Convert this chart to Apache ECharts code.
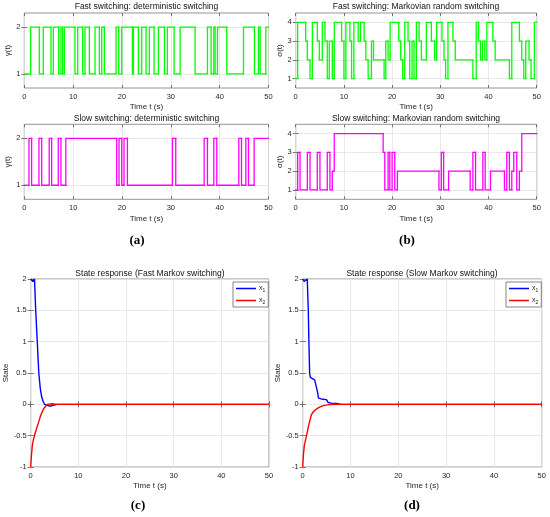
<!DOCTYPE html>
<html>
<head>
<meta charset="utf-8">
<script src="https://cdn.jsdelivr.net/npm/echarts@6/dist/echarts.min.js"></script>
<style>
  html, body { margin: 0; padding: 0; background: #fff; }
  #main { width: 550px; height: 517px; }
</style>
</head>
<body>
<div id="main"></div>
<script>
// switching instants (s) and the mode held from that instant on
var fastDetT = [0, 1.30, 3.07, 3.89, 5.46, 5.94, 7.04, 7.51, 7.86, 8.20, 10.38, 10.93, 11.95, 12.43, 13.32, 14.48,
  15.37, 15.85, 16.39, 18.78, 19.33, 19.95, 22.13, 22.34, 23.36, 24.04, 24.93, 25.61, 26.57, 27.46, 28.69, 29.30,
  30.67, 31.90, 34.97, 37.50, 38.25, 38.80, 39.07, 39.55, 41.46, 44.88, 47.13, 47.95, 48.29, 49.45]
var fastDetMode = [1, 2, 1, 2, 1, 2, 1, 2, 1, 2, 1, 2, 1, 2, 1, 2,
  1, 2, 1, 2, 1, 2, 1, 2, 1, 2, 1, 2, 1, 2, 1, 2,
  1, 2, 1, 2, 1, 2, 1, 2, 1, 2, 1, 2, 1, 2]

var slowDetT = [0, 0.96, 1.5, 3.0, 3.56, 5.1, 5.6, 6.95, 7.5, 8.5, 18.92, 19.40, 19.95, 20.42, 21.11, 30.33,
  31.01, 36.82, 37.50, 38.80, 39.41, 43.92, 44.47, 45.36, 45.90, 47.06]
var slowDetMode = [1, 2, 1, 2, 1, 2, 1, 2, 1, 2, 1, 2, 1, 2, 1, 2,
  1, 2, 1, 2, 1, 2, 1, 2, 1, 2]

var fastMarkT = [0, 0.41, 2.07, 2.41, 2.97, 3.45, 4.48, 4.90, 5.52, 6.07, 6.55, 6.97, 7.59, 8.0, 9.52, 10.0,
  10.41, 11.24, 11.59, 12.07, 12.97, 13.45, 14.2, 14.55, 15.03, 15.72, 16.14, 18.34, 18.69, 19.17, 19.59, 21.38,
  21.79, 22.2, 22.62, 23.31, 23.66, 24.14, 24.55, 25.03, 25.59, 26.07, 27.1, 28.14, 28.83, 29.24, 30.34, 30.76,
  31.1, 31.59, 32.62, 33.1, 36.76, 37.45, 37.93, 38.34, 38.76, 39.24, 39.66, 40.9, 41.38, 44.34, 44.83, 46.41,
  46.9, 47.31, 47.72, 48.41, 48.83, 49.52]
var fastMarkMode = [1, 4, 3, 2, 1, 4, 3, 2, 4, 3, 1, 3, 1, 4, 3, 1,
  4, 3, 1, 4, 3, 4, 3, 2, 1, 3, 2, 1, 3, 2, 4, 3,
  2, 1, 4, 3, 1, 3, 1, 4, 3, 2, 4, 3, 2, 4, 3, 2,
  1, 4, 3, 2, 1, 4, 3, 2, 3, 2, 4, 3, 2, 1, 4, 3,
  2, 1, 3, 2, 1, 4]

var slowMarkT = [0, 0.41, 0.9, 2.41, 2.97, 4.48, 5.03, 6.55, 7.1, 7.59, 8.0, 18.14, 18.48, 19.17, 19.52, 20.0,
  20.55, 21.1, 29.72, 30.21, 30.69, 31.72, 36.2, 36.76, 37.31, 38.83, 39.31, 40.41, 43.31, 43.79, 44.34, 44.83,
  45.24, 45.86, 46.41, 46.9]
var slowMarkMode = [1, 3, 1, 3, 1, 3, 1, 3, 1, 2, 4, 3, 1, 3, 1, 3,
  1, 2, 1, 3, 1, 2, 1, 3, 1, 3, 1, 2, 1, 3, 1, 2,
  3, 1, 2, 4]

// state responses
var fastX1T = [0, 0.2, 0.45, 0.65, 0.8, 1.05, 1.38, 1.7, 2.0, 2.3, 2.6, 2.9, 3.3, 4.0, 4.7, 5.5, 50]
var fastX1 = [2, 1.97, 1.96, 1.99, 2.0, 1.5, 1.0, 0.5, 0.26, 0.12, 0.05, 0.0, -0.03, -0.03, -0.015, 0, 0]
var fastX2T = [0, 0.15, 0.35, 0.55, 0.9, 1.3, 1.6, 2.0, 2.3, 2.7, 3.0, 3.5, 4.5, 5.5, 50]
var fastX2 = [-1, -0.82, -0.65, -0.57, -0.47, -0.37, -0.3, -0.2, -0.14, -0.07, -0.04, 0.0, 0.01, 0, 0]

var slowX1T = [0, 0.3, 0.5, 0.7, 0.95, 1.17, 1.3, 1.45, 1.6, 2.0, 2.5, 2.9, 3.1, 3.3, 3.45, 4.2, 4.97, 5.3, 6.0, 7.0, 8.1, 50]
var slowX1 = [2, 1.96, 1.95, 1.97, 2.0, 1.5, 1.0, 0.5, 0.43, 0.41, 0.39, 0.38, 0.2, 0.1, 0.08, 0.08, 0.075, 0.03, 0.02, 0.015, 0, 0]
var slowX2T = [0, 0.15, 0.35, 0.8, 1.3, 1.8, 2.2, 2.8, 3.5, 4.3, 5.5, 7, 50]
var slowX2 = [-1, -0.8, -0.65, -0.5, -0.32, -0.17, -0.12, -0.08, -0.045, -0.02, -0.005, 0, 0]

var FONT = 'Liberation Sans, Arial, sans-serif'
var GREEN = '#00ff00', MAGENTA = '#ff00ff', BLUE = '#0000ff', RED = '#ff0000'

function pairs (T, V) {
  return T.map(function (t, i) { return [t, V[i]] })
}
// one item per constant piece: [start, end, mode, previous mode]
function pieces (T, M) {
  return T.map(function (t, i) {
    var end = i + 1 < T.length ? T[i + 1] : 50
    var prev = i > 0 ? M[i - 1] : M[i]
    return [t, end, M[i], prev]
  })
}

function grid (left, top, width, height) {
  return { left: left, top: top, width: width, height: height, show: true,
    borderColor: '#7a7a7a', borderWidth: 0.8, backgroundColor: 'transparent' }
}

var tickStyle = { inside: true, length: 3, lineStyle: { color: '#555', width: 0.8 } }

function xAx (gi, gap) {
  return {
    gridIndex: gi, type: 'value', min: 0, max: 50, interval: 10,
    name: 'Time t (s)', nameLocation: 'middle', nameGap: gap,
    nameTextStyle: { fontFamily: FONT, fontSize: 8, color: '#262626' },
    axisLine: { show: false },
    axisTick: tickStyle,
    axisLabel: { fontFamily: FONT, fontSize: 7.5, color: '#262626', margin: 5 },
    splitLine: { show: true, lineStyle: { color: '#e3e3e3', width: 0.8 } }
  }
}
// tick marks only, on the top edge (MATLAB box)
function xTop (gi) {
  return { gridIndex: gi, type: 'value', position: 'top', min: 0, max: 50, interval: 10,
    axisLine: { show: false }, axisTick: tickStyle, axisLabel: { show: false }, splitLine: { show: false } }
}

function yAx (gi, opt) {
  var a = {
    gridIndex: gi, type: 'value', min: opt.min, max: opt.max,
    name: opt.name, nameLocation: 'middle', nameGap: opt.gap,
    nameTextStyle: { fontFamily: FONT, fontSize: 8, color: '#262626' },
    axisLine: { show: false },
    axisTick: { inside: true, length: 3, lineStyle: { color: '#555', width: 0.8 } },
    axisLabel: { fontFamily: FONT, fontSize: 7.5, color: '#262626', margin: 4 },
    splitLine: { show: true, lineStyle: { color: '#e3e3e3', width: 0.8 } }
  }
  if (opt.ticks) {
    a.axisTick.customValues = opt.ticks
    a.axisLabel.customValues = opt.ticks
  } else {
    a.interval = opt.interval
  }
  return a
}
function yRight (gi, opt) {
  var a = { gridIndex: gi, type: 'value', position: 'right', min: opt.min, max: opt.max,
    axisLine: { show: false },
    axisTick: { inside: true, length: 3, lineStyle: { color: '#555', width: 0.8 } },
    axisLabel: { show: false }, splitLine: { show: false } }
  if (opt.ticks) {
    a.axisTick.customValues = opt.ticks
    a.axisLabel.customValues = opt.ticks
  } else {
    a.interval = opt.interval
  }
  return a
}

function title (text, x, y, extra) {
  var t = { text: text, left: x, top: y, textAlign: 'center', padding: 0,
    textStyle: { fontFamily: FONT, fontSize: 8.5, fontWeight: 'normal', color: '#111' } }
  if (extra) Object.assign(t.textStyle, extra)
  return t
}

// switching signal: jump at the start of each piece, then hold
function stepSeries (idx, data, color) {
  return {
    type: 'custom', xAxisIndex: idx, yAxisIndex: idx, data: data, silent: true,
    encode: { x: [0, 1], y: [2, 3] },
    renderItem: function (params, api) {
      var a = api.coord([api.value(0), api.value(3)])
      var b = api.coord([api.value(0), api.value(2)])
      var c = api.coord([api.value(1), api.value(2)])
      return { type: 'polyline', shape: { points: [a, b, c] },
        style: { stroke: color, lineWidth: 1.3, fill: null, lineCap: 'square', lineJoin: 'miter' } }
    }
  }
}
function stateSeries (idx, name, data, color) {
  return { type: 'line', name: name, xAxisIndex: idx, yAxisIndex: idx, data: data,
    symbol: 'none', silent: true, lineStyle: { color: color, width: 1.4 }, itemStyle: { color: color } }
}

function legend (left) {
  return {
    left: left, top: 282, orient: 'vertical', data: ['x1', 'x2'],
    backgroundColor: '#fff', borderColor: '#666', borderWidth: 0.8,
    padding: [3, 3, 2, 3], itemGap: 4, itemWidth: 20, itemHeight: 1.5, icon: 'rect', selectedMode: false,
    formatter: function (name) { return 'x{s|' + name.slice(1) + '}' },
    textStyle: { fontFamily: FONT, fontSize: 7, color: '#262626', padding: [0, 0, 0, -2],
      rich: { s: { fontFamily: FONT, fontSize: 5, color: '#262626', padding: [4, 0, 0, 0] } } }
  }
}

var serif = { fontFamily: 'Liberation Serif, DejaVu Serif, serif', fontSize: 13, fontWeight: 'bold', color: '#000' }

var yOpts = [
  { min: 0.7, max: 2.3, ticks: [1, 2], name: 'γ(t)', gap: 11 },
  { min: 0.7, max: 2.3, ticks: [1, 2], name: 'γ(t)', gap: 11 },
  { min: 0.5, max: 4.5, ticks: [1, 2, 3, 4], name: 'σ(t)', gap: 10 },
  { min: 0.5, max: 4.5, ticks: [1, 2, 3, 4], name: 'σ(t)', gap: 10 },
  { min: -1, max: 2, interval: 0.5, name: 'State', gap: 19 },
  { min: -1, max: 2, interval: 0.5, name: 'State', gap: 19 }
]

var chart = echarts.init(document.getElementById('main'))
chart.setOption({
  animation: false,
  backgroundColor: '#fff',
  title: [
    title('Fast switching: deterministic switching', 146.5, 2.5),
    title('Slow switching: deterministic switching', 146.5, 114.5),
    title('Fast switching: Markovian random switching', 416, 2.5),
    title('Slow switching: Markovian random switching', 416, 114.5),
    title('State response (Fast Markov switching)', 150, 269.5),
    title('State response (Slow Markov switching)', 422, 269.5),
    title('(a)', 137, 234, serif),
    title('(b)', 407, 234, serif),
    title('(c)', 138, 499, serif),
    title('(d)', 412, 499, serif)
  ],
  legend: [legend(233), legend(506)],
  grid: [
    grid(24.3, 13, 244.2, 75),
    grid(24.3, 124.3, 244.2, 75),
    grid(295.7, 13, 241, 75),
    grid(295.7, 124.3, 241, 75),
    grid(30.7, 279, 238.3, 188),
    grid(302.7, 279, 239, 188)
  ],
  xAxis: [0, 1, 2, 3, 4, 5].map(function (g) { return xAx(g, 15) })
    .concat([0, 1, 2, 3, 4, 5].map(xTop)),
  yAxis: yOpts.map(function (o, g) { return yAx(g, o) })
    .concat(yOpts.map(function (o, g) { return yRight(g, o) })),
  series: [
    stepSeries(0, pieces(fastDetT, fastDetMode), GREEN),
    stepSeries(1, pieces(slowDetT, slowDetMode), MAGENTA),
    stepSeries(2, pieces(fastMarkT, fastMarkMode), GREEN),
    stepSeries(3, pieces(slowMarkT, slowMarkMode), MAGENTA),
    stateSeries(4, 'x1', pairs(fastX1T, fastX1), BLUE),
    stateSeries(4, 'x2', pairs(fastX2T, fastX2), RED),
    stateSeries(5, 'x1', pairs(slowX1T, slowX1), BLUE),
    stateSeries(5, 'x2', pairs(slowX2T, slowX2), RED)
  ]
})
</script>
</body>
</html>
